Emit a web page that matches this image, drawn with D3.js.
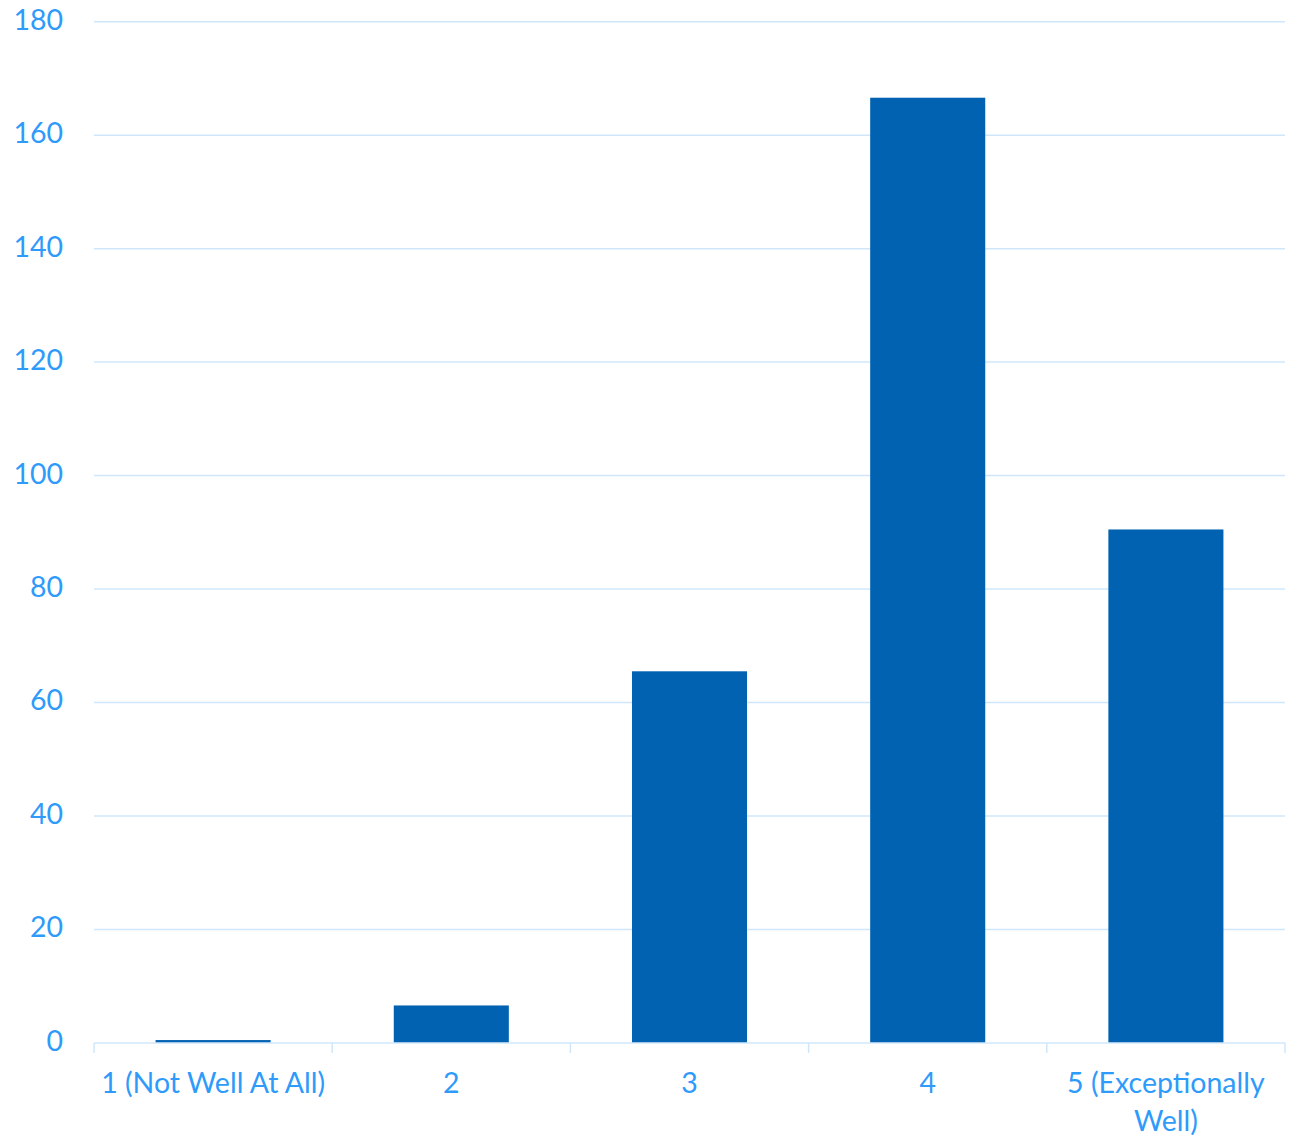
<!DOCTYPE html>
<html><head><meta charset="utf-8">
<script src="https://cdn.jsdelivr.net/npm/d3@7"></script>
<style>body{margin:0;background:#fff;} svg{display:block;}</style>
</head><body>
<svg id="c" width="1297" height="1137"></svg>
<script>
const categories = ["1 (Not Well At All)", "2", "3", "4", "5 (Exceptionally Well)"];
const categoryLines = [["1 (Not Well At All)"], ["2"], ["3"], ["4"], ["5 (Exceptionally", "Well)"]];
const values = [0.5, 6.6, 65.5, 166.6, 90.5];
const yTicks = [0, 20, 40, 60, 80, 100, 120, 140, 160, 180];

const svg = d3.select("#c");
const mLeft = 94, mRight = 1285, mTop = 21.7, mBottom = 1042.9;
const font = "Lato, 'Open Sans', sans-serif";
const fontSize = 28.5;
const textColor = "#2E9BFB";
const gridColor = "#D0E7FB";

const x = d3.scaleBand().domain(categories).range([mLeft, mRight]).paddingInner(0.517).paddingOuter(0.2585);
const xb = d3.scaleBand().domain(categories).range([mLeft, mRight]);
const y = d3.scaleLinear().domain([0, 180]).range([mBottom, mTop]);

// gridlines
svg.append("g").selectAll("line").data(yTicks.filter(d => d > 0)).join("line")
  .attr("x1", mLeft).attr("x2", mRight)
  .attr("y1", d => y(d)).attr("y2", d => y(d))
  .attr("stroke", gridColor).attr("stroke-width", 1.5);

// y labels
svg.append("g").selectAll("text").data(yTicks).join("text")
  .attr("x", 63).attr("y", d => y(d) - 2).attr("dy", "0.35em")
  .attr("text-anchor", "end").attr("font-family", font).attr("font-size", fontSize)
  .attr("fill", textColor).text(d => d);

// bars
svg.append("g").selectAll("rect").data(values).join("rect")
  .attr("x", (d, i) => x(categories[i])).attr("width", x.bandwidth())
  .attr("y", d => y(d)).attr("height", d => y(0) - y(d))
  .attr("fill", "#0062B1");

// x axis line and ticks
svg.append("line").attr("x1", mLeft).attr("x2", mRight).attr("y1", y(0)).attr("y2", y(0))
  .attr("stroke", gridColor).attr("stroke-width", 1.5);
const bounds = categories.map(c => xb(c)).concat([mRight]);
svg.append("g").selectAll("line").data(bounds).join("line")
  .attr("x1", d => d).attr("x2", d => d).attr("y1", y(0)).attr("y2", y(0) + 10)
  .attr("stroke", gridColor).attr("stroke-width", 1.5);

// x labels
const xl = svg.append("g").selectAll("text").data(categories).join("text")
  .attr("x", d => xb(d) + xb.bandwidth() / 2).attr("y", 1093)
  .attr("text-anchor", "middle").attr("font-family", font).attr("font-size", fontSize)
  .attr("fill", textColor);
xl.each(function(d, i) {
  d3.select(this).selectAll("tspan").data(categoryLines[i]).join("tspan")
    .attr("x", xb(d) + xb.bandwidth() / 2).attr("dy", (t, j) => j === 0 ? 0 : 38).text(t => t);
});
</script>
</body></html>
